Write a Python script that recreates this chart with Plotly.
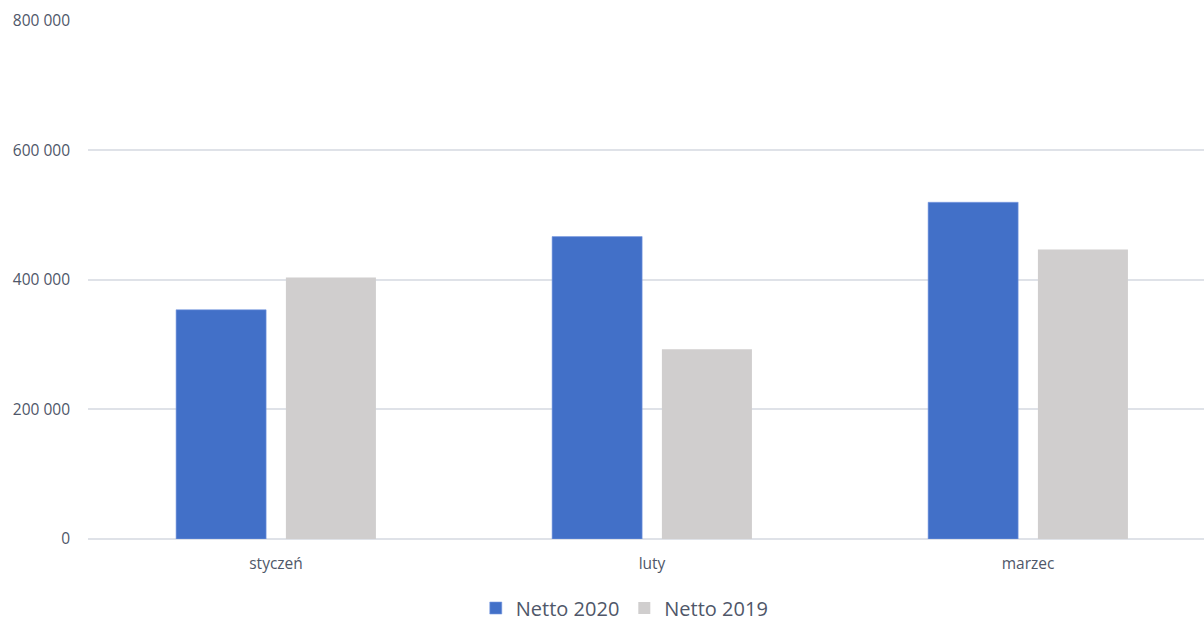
import plotly.graph_objects as go

months = ["styczeń", "luty", "marzec"]
netto_2020 = [354000, 467000, 520000]
netto_2019 = [404000, 293000, 447000]
y_ticks = [0, 200000, 400000, 600000, 800000]
y_tick_labels = ["0", "200 000", "400 000", "600 000", "800 000"]

text_color = "#4f5769"

fig = go.Figure()
fig.add_trace(go.Bar(
    x=months, y=netto_2020, name="Netto 2020",
    marker=dict(color="#4270c8", line=dict(color="#7b9be0", width=0.6)),
))
fig.add_trace(go.Bar(
    x=months, y=netto_2019, name="Netto 2019",
    marker=dict(color="#d0cece", line=dict(width=0)),
))

fig.update_layout(
    width=1204, height=624,
    margin=dict(l=88, r=0, t=20, b=85, autoexpand=False),
    paper_bgcolor="white", plot_bgcolor="white",
    barmode="group", bargap=0.416, bargroupgap=0.18,
    font=dict(family="Open Sans, Noto Sans, sans-serif", color=text_color, size=15),
    showlegend=True,
    legend=dict(
        orientation="h", x=0.481, xanchor="center", y=-0.133, yanchor="middle",
        font=dict(size=20, color=text_color), borderwidth=0,
        traceorder="normal",
    ),
)
fig.update_xaxes(
    range=[-0.5, 2.468], showgrid=False, showline=False, zeroline=False,
    ticks="", ticklabelstandoff=13, tickfont=dict(size=15.5, color=text_color),
)
fig.update_yaxes(
    range=[0, 801500], tickvals=y_ticks, ticktext=y_tick_labels,
    showgrid=True, gridcolor="#dfe2e8", gridwidth=1.5,
    zeroline=True, zerolinecolor="#dfe2e8", zerolinewidth=1.5,
    showline=False, ticks="", ticklabelstandoff=17,
    tickfont=dict(size=15.5, color=text_color),
)

fig.write_html(
    "out.html",
    config={"displayModeBar": False},
    post_script="document.body.style.margin='0';document.body.style.overflow='hidden';",
)
